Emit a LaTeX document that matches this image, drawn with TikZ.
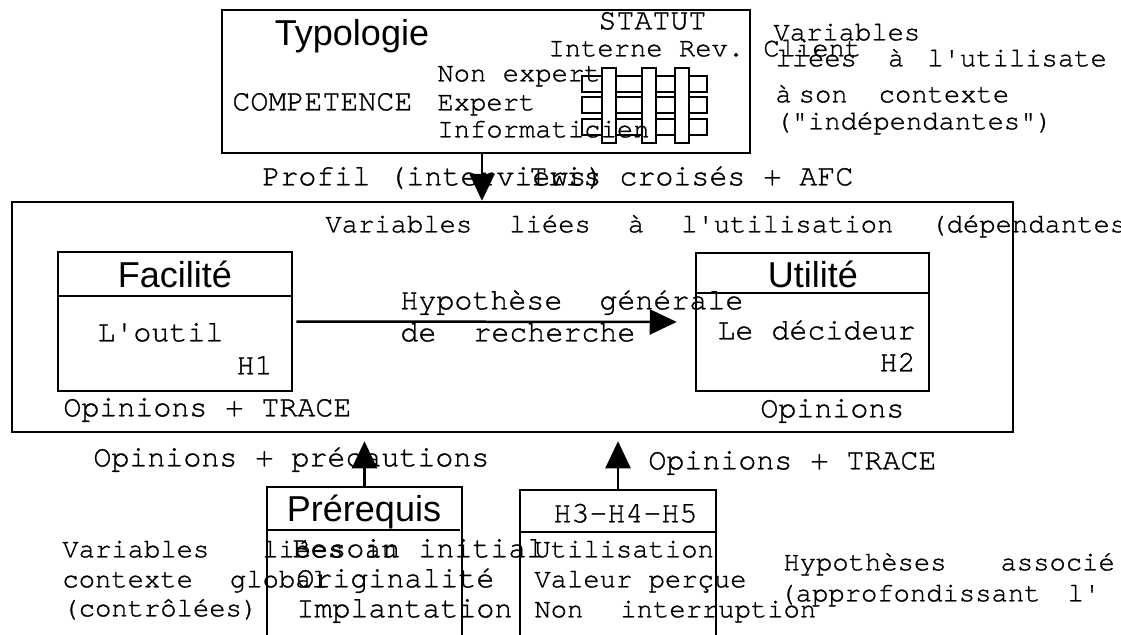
\documentclass[tikz,border=0pt]{standalone}
\usepackage{fontspec}
\setmonofont{texgyrecursor}[Extension=.otf, UprightFont=*-regular, BoldFont=*-bold,
    Ligatures=NoCommon, FakeBold=1]
\setsansfont{Liberation Sans}
\usepackage{tikz}
\usetikzlibrary{arrows.meta,fit}

\newcommand{\ttbig}{\ttfamily\fontsize{15pt}{17pt}\selectfont}
\newcommand{\ttsmall}{\ttfamily\fontsize{13.6pt}{15pt}\selectfont}
\newcommand{\titlefont}{\sffamily\fontsize{18pt}{20pt}\selectfont}
\newcommand{\gap}{\hspace{18.5pt}}

\begin{document}
\begin{tikzpicture}[x=0.5pt, y=-0.5pt,  % one unit is one pixel of the sketch, y downwards
    box/.style={draw, line width=1.25pt, inner sep=0pt},
    sep/.style={line width=1.1pt},
    bar/.style={draw, line width=1pt, fill=white},
    big/.style={anchor=mid west, inner sep=0pt, font=\ttbig},
    small/.style={anchor=mid west, inner sep=0pt, font=\ttsmall},
    title/.style={anchor=base, inner sep=0pt, font=\titlefont},
    arr/.style={line width=1.25pt, -{Triangle[length=13.5pt, width=12.5pt]}}]
    % Fix the frame of the page
    \useasboundingbox (0,0) rectangle (1121,634);
    \clip (0,0) rectangle (1121,634);

    % Draw the boxes
    \node[box, fit={(222,10) (750,153)}] (typo) {};
    \node[box, fit={(12,202) (1013,432)}] (main) {};
    \node[box, fit={(58,252) (292,391)}] (facil) {};
    \node[box, fit={(696,253) (929,391)}] (util) {};
    \node[box, fit={(267,487) (462,660)}] (prereq) {};
    \node[box, fit={(520,490) (716,660)}] (hyp) {};
    \draw[sep] (58,296) -- (292,296);
    \draw[sep] (696,293) -- (929,293);
    \draw[sep] (267,530) -- (460,530);
    \draw[sep] (520,532) -- (716,532);

    % Draw the grid of the typology
    \foreach \y in {76, 97, 119} {
        \draw[line width=1pt] (582,\y) rectangle (707,\y+15.5);
    }
    \foreach \x in {602, 642, 675} {
        \draw[bar] (\x,68) rectangle (\x+14,143);
    }

    % Typology box
    \node[title] (typotitle) at (352,45) {Typologie};
    \node[big] (statut) at (598,25) {STATUT};
    \node[small] (interne) at (548,52) {Interne Rev.};
    \node[small] (client) at (763,52) {Client};
    \node[small] (nonexp) at (437,77) {Non expert};
    \node[small] (expert) at (437,106) {Expert};
    \node[small] (info) at (437,133) {Informaticien};
    \node[big] (compet) at (232,106) {COMPETENCE};

    % Variables beside the typology
    \node[small] (indep1) at (773,36) {Variables};
    \node[small] (indep2) at (775,62) {liées\hspace{15.5pt}à\hspace{11.5pt}l'utilisate};
    \node[small] (indep3) at (775,98) {à\hspace{3.5pt}son\hspace{15.5pt}contexte};
    \node[small] (indep4) at (775,125) {("indépendantes")};

    % Labels of the top arrow
    \node[big] (profil) at (262,181) {Profil (interviews)};
    \node[big] (tris) at (529,181) {Tris croisés + AFC};

    % Main box
    \node[small] (dep) at (325,228)
        {Variables\gap liées\gap à\gap l'utilisation\gap (dépendantes};
    \node[title] (faciltitle) at (175,287) {Facilité};
    \node[big] (outil) at (97,337) {L'outil};
    \node[big, anchor=mid east] (hun) at (273,370) {H1};
    \node[big] (optrace) at (63,412) {Opinions + TRACE};
    \node[title] (utiltitle) at (813,287) {Utilité};
    \node[big] (decideur) at (717,335) {Le décideur};
    \node[big, anchor=mid east] (hdeux) at (916,367) {H2};
    \node[big] (opinions) at (760,413) {Opinions};
    \node[big] (hypgen1) at (400,305) {Hypothèse\gap générale};
    \node[big] (hypgen2) at (400,337) {de\gap recherche};

    % Bottom part
    \node[big] (opprec) at (93,462) {Opinions + précautions};
    \node[big] (optrace2) at (648,465) {Opinions + TRACE};
    \node[title] (prereqtitle) at (364,521) {Prérequis};
    \node[big] (besoin) at (292,553) {Besoin initial};
    \node[big] (origin) at (296,583) {Originalité};
    \node[big] (implant) at (296,613) {Implantation};
    \node[small] (ctrl1) at (62,553) {Variables\hspace{26.5pt}liées\hspace{10.5pt}au};
    \node[small] (ctrl2) at (62,583) {contexte\gap global};
    \node[small] (ctrl3) at (62,612) {(contrôlées)};
    \node[big] (hyptitle) at (553,518) {H3-H4-H5};
    \node[small] (usage) at (534,553) {Utilisation};
    \node[small] (valeur) at (534,583) {Valeur perçue};
    \node[small] (interr) at (534,613) {Non\gap interruption};
    \node[small] (assoc1) at (783,566) {Hypothèses\hspace{27pt}associé};
    \node[small] (assoc2) at (779,597) {(approfondissant\hspace{13.5pt}l'};

    % Draw the arrows
    \coordinate (drop) at (482,0);
    \draw[arr] (typo.south -| drop) -- (main.north -| drop);
    \draw[arr, shorten <=1.5pt, shorten >=9pt] (facil.east) -- (util.west);
    \draw[arr, shorten >=4pt] (prereq.north) -- (prereq.north |- main.south);
    \draw[arr, shorten >=4pt] (hyp.north) -- (hyp.north |- main.south);
\end{tikzpicture}
\end{document}
